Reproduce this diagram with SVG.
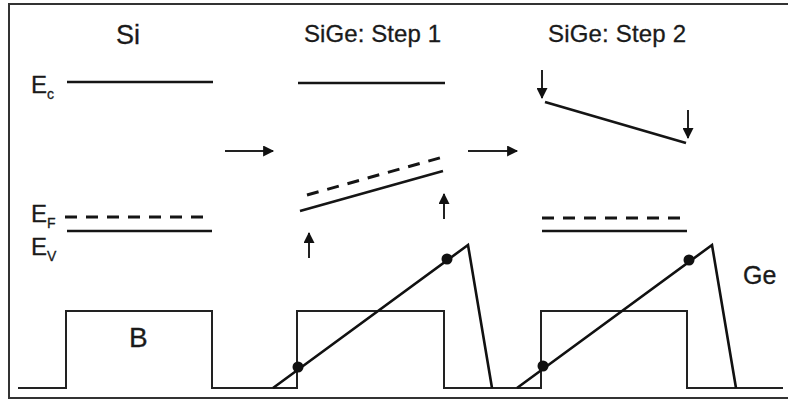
<svg xmlns="http://www.w3.org/2000/svg" width="788" height="400" viewBox="0 0 788 400">
<style>
.t{font-family:"Liberation Sans",Arial,sans-serif;fill:#1a1a1a;stroke:#1a1a1a;stroke-width:0.3}
.lv{stroke:#151515;stroke-width:2.6;fill:none}
.ds{stroke:#151515;stroke-width:3;fill:none;stroke-dasharray:12 9}
.pr{stroke:#222;stroke-width:2;fill:none}
.ge{stroke:#111;stroke-width:2.6;fill:none}
.ar{stroke:#222;stroke-width:2;fill:none}
</style>
<defs>
<marker id="ah" viewBox="0 0 10 10" refX="9" refY="5" markerWidth="6" markerHeight="5.5" orient="auto" markerUnits="strokeWidth">
<path d="M0,0 L10,5 L0,10 z" fill="#111"/>
</marker>
</defs>
<rect width="788" height="400" fill="#fff"/>
<g id="frame">
<path d="M788,4 H9 V398 H788" fill="none" stroke="#333" stroke-width="2"/>
</g>
<g id="labels">
<text class="t" x="116" y="44" font-size="27">Si</text>
<text class="t" x="304" y="42" font-size="24" textLength="137">SiGe: Step 1</text>
<text class="t" x="548" y="42" font-size="24" textLength="138">SiGe: Step 2</text>
<text class="t" x="31" y="93" font-size="24">E<tspan font-size="14" dy="6">c</tspan></text>
<text class="t" x="31" y="222" font-size="24">E<tspan font-size="14" dy="6">F</tspan></text>
<text class="t" x="31" y="255" font-size="24">E<tspan font-size="14" dy="6">V</tspan></text>
<text class="t" x="129" y="347" font-size="28">B</text>
<text class="t" x="743" y="284" font-size="25">Ge</text>
</g>
<g id="si">
<line class="lv" x1="67" y1="82" x2="213" y2="82"/>
<line class="ds" x1="65" y1="217" x2="208" y2="217"/>
<line class="lv" x1="67" y1="231" x2="212" y2="231"/>
</g>
<g id="step1">
<line class="lv" x1="298" y1="83" x2="445" y2="83"/>
<line class="ds" x1="307" y1="195" x2="443" y2="157"/>
<line class="lv" x1="300" y1="211" x2="443" y2="171"/>
</g>
<g id="step2">
<line class="lv" x1="545" y1="102" x2="686" y2="143"/>
<line class="ds" x1="542" y1="218" x2="683" y2="218"/>
<line class="lv" x1="542" y1="231" x2="687" y2="231"/>
</g>
<g id="profiles">
<path class="pr" d="M18,388 H66 V311 H212 V388 H297 V311 H444 V388 H541 V311 H687 V388 H783"/>
<path class="ge" d="M273,388 L468,245 L492,388"/>
<path class="ge" d="M517,388 L712,245 L736,388"/>
<circle cx="298" cy="367" r="5.5" fill="#111"/>
<circle cx="447" cy="259" r="5.5" fill="#111"/>
<circle cx="543" cy="366" r="5.5" fill="#111"/>
<circle cx="689" cy="260" r="5.5" fill="#111"/>
</g>
<g id="connectors">
<line class="ar" x1="225" y1="151" x2="273" y2="151" marker-end="url(#ah)"/>
<line class="ar" x1="468" y1="151" x2="517" y2="151" marker-end="url(#ah)"/>
<line class="ar" x1="309" y1="258" x2="309" y2="233" marker-end="url(#ah)"/>
<line class="ar" x1="444" y1="219" x2="444" y2="194" marker-end="url(#ah)"/>
<line class="ar" x1="542" y1="70" x2="542" y2="98" marker-end="url(#ah)"/>
<line class="ar" x1="688" y1="110" x2="688" y2="138" marker-end="url(#ah)"/>
</g>
</svg>
